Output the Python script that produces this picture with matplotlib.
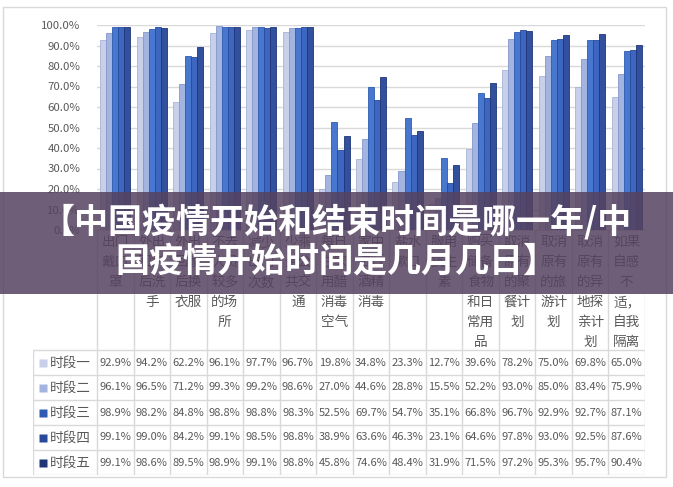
import matplotlib
matplotlib.use("Agg")
import matplotlib.pyplot as plt
from matplotlib.patches import Rectangle
import numpy as np

plt.rcParams['font.family'] = ['Noto Sans CJK SC', 'DejaVu Sans']

categories = [
    "出门戴口罩", "外出回家后洗手", "外出回家后换衣服", "不去人员较多的场所",
    "减少出门次数", "少乘坐公共交通", "每日在家用醋消毒空气", "家中进行酒精消毒",
    "盐水漱口", "服用抗生素", "购买储备食物和日常用品", "取消原有的聚餐计划",
    "取消原有的旅游计划", "取消原有的异地探亲计划", "如果自感不适，自我隔离",
]
# header lines as wrapped in the reference table
category_lines = [
    ["出门", "戴口", "罩"],
    ["外出", "回家", "后洗", "手"],
    ["外出", "回家", "后换", "衣服"],
    ["不去", "人员", "较多", "的场", "所"],
    ["减少", "出门", "次数"],
    ["少乘", "坐公", "共交", "通"],
    ["每日", "在家", "用醋", "消毒", "空气"],
    ["家中", "进行", "酒精", "消毒"],
    ["盐水", "漱口"],
    ["服用", "抗生", "素"],
    ["购买", "储备", "食物", "和日", "常用", "品"],
    ["取消", "原有", "的聚", "餐计", "划"],
    ["取消", "原有", "的旅", "游计", "划"],
    ["取消", "原有", "的异", "地探", "亲计", "划"],
    ["如果", "自感", "不", "适，", "自我", "隔离"],
]
series_names = ["时段一", "时段二", "时段三", "时段四", "时段五"]
s1 = [92.9, 94.2, 62.2, 96.1, 97.7, 96.7, 19.8, 34.8, 23.3, 12.7, 39.6, 78.2, 75.0, 69.8, 65.0]
s2 = [96.1, 96.5, 71.2, 99.3, 99.2, 98.6, 27.0, 44.6, 28.8, 15.5, 52.2, 93.0, 85.0, 83.4, 75.9]
s3 = [98.9, 98.2, 84.8, 98.8, 98.8, 98.3, 52.5, 69.7, 54.7, 35.1, 66.8, 96.7, 92.9, 92.7, 87.1]
s4 = [99.1, 99.0, 84.2, 99.1, 98.5, 98.8, 38.9, 63.6, 46.3, 23.1, 64.6, 97.8, 93.0, 92.5, 87.6]
s5 = [99.1, 98.6, 89.5, 98.9, 99.1, 98.8, 45.8, 74.6, 48.4, 31.9, 71.5, 97.2, 95.3, 95.7, 90.4]
series = [s1, s2, s3, s4, s5]
yticks = [0, 10, 20, 30, 40, 50, 60, 70, 80, 90, 100]
title = "【中国疫情开始和结束时间是哪一年/中\n国疫情开始时间是几月几日】"

colors = ["#c7cfe9", "#a3b4e0", "#4877d0", "#3d66c0", "#33509f"]
edges = ["#a9b4d6", "#8598cb", "#2f5cb2", "#28499a", "#1f3676"]
textc = "#595959"
gridc = "#d9d9d9"

W, H = 673, 487
fig = plt.figure(figsize=(W / 100, H / 100), dpi=100)
fig.patch.set_facecolor("white")

def fx(x):
    return x / W

def fy(y):
    return 1 - y / H

# outer chart border
fig.add_artist(Rectangle((fx(3), fy(477)), fx(666) - fx(3), fy(7) - fy(477),
                         transform=fig.transFigure, fill=False, edgecolor="#d9d9d9", lw=1))

# main bar axes
L, R, T, B = 97, 645, 25, 230
ax = fig.add_axes([fx(L), fy(B), fx(R) - fx(L), fy(T) - fy(B)])
n = len(categories)
x = np.arange(n)
bw = 0.165
for j, (vals, c, ec) in enumerate(zip(series, colors, edges)):
    ax.bar(x + (j - 2) * bw, vals, width=bw, color=c, edgecolor=ec, linewidth=0.6, zorder=3)
ax.set_xlim(-0.5, n - 0.5)
ax.set_ylim(0, 100)
ax.set_yticks(yticks)
ax.set_yticklabels([f"{v:.1f}%" for v in yticks], fontsize=8.2, color=textc)
ax.yaxis.grid(True, color=gridc, lw=1, zorder=0)
ax.set_xticks([])
for s in ["top", "right", "left"]:
    ax.spines[s].set_visible(False)
ax.spines["bottom"].set_color(gridc)
ax.tick_params(axis="y", length=0, pad=12)

# data table axes
legL = 33
colw = (R - L) / n
tax = fig.add_axes([fx(legL), fy(475), fx(R) - fx(legL), fy(B) - fy(475)])
tax.set_xlim(-0.5 - (L - legL) / colw, n - 0.5)
tax.set_ylim(475, B)
tax.axis("off")
rows_top = 350
rowh = 25
# vertical lines
for k in range(n + 1):
    tax.plot([k - 0.5, k - 0.5], [B, 475], color=gridc, lw=1)
xleft = -0.5 - (L - legL) / colw
tax.plot([xleft, xleft], [rows_top, 475], color=gridc, lw=1)
for r in range(len(series) + 1):
    yy = rows_top + r * rowh
    tax.plot([xleft, n - 0.5], [yy, yy], color=gridc, lw=1)

# header labels
for i, lines in enumerate(category_lines):
    for li, t in enumerate(lines):
        tax.text(i, 242 + li * 20, t, ha="center", va="center", fontsize=9.8, color=textc)

# values + legend keys
for r, (name, vals, c) in enumerate(zip(series_names, series, colors)):
    yc = rows_top + r * rowh + rowh / 2
    for i, v in enumerate(vals):
        tax.text(i, yc, f"{v:.1f}%", ha="center", va="center", fontsize=8.0, color=textc)
    tax.plot([xleft + 0.27], [yc], marker="s", ms=5.5, color=edges[r] if r >= 2 else c,
             mec="none")
    tax.text(xleft + 0.47, yc, name, ha="left", va="center", fontsize=9.8, color=textc)

# banner overlay
fig.add_artist(Rectangle((0, fy(294)), 1, fy(192) - fy(294), transform=fig.transFigure,
                         facecolor="#56425f", alpha=0.85, edgecolor="none", zorder=10))
fig.text(0.5, fy(241), title, ha="center", va="center", fontsize=24.5, fontweight="bold",
         color="white", linespacing=1.17, zorder=11)

fig.savefig("out.png", dpi=100)
